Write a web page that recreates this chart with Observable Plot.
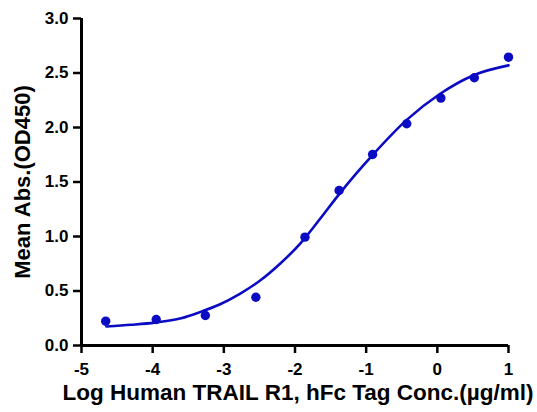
<!DOCTYPE html>
<html>
<head>
<meta charset="utf-8">
<script src="https://cdn.jsdelivr.net/npm/d3@7"></script>
<script src="https://cdn.jsdelivr.net/npm/@observablehq/plot@0.6"></script>
<style>
  body { margin: 0; background: #fff; }
  #chart svg { font-family: "Liberation Sans", Arial, sans-serif; font-weight: bold; }
</style>
</head>
<body>
<div id="chart"></div>
<script>
// Measured points: log concentration (µg/ml) vs mean absorbance
const logConc = [-4.66, -3.95, -3.26, -2.55, -1.86, -1.38, -0.91, -0.43, 0.05, 0.52, 1.0];
const meanAbs = [0.223, 0.239, 0.275, 0.443, 0.994, 1.422, 1.752, 2.034, 2.27, 2.456, 2.645];

// Fitted curve
const fitX = [-4.65, -4.3, -3.97, -3.6, -3.34, -3.06, -2.775, -2.49, -2.21, -1.93, -1.65, -1.39, -1.15, -0.92, -0.43, 0.04, 0.51, 1.0];
const fitY = [0.174, 0.19, 0.21, 0.25, 0.305, 0.376, 0.474, 0.596, 0.75, 0.933, 1.16, 1.38, 1.57, 1.74, 2.07, 2.31, 2.48, 2.57];

const xTicks = [-5, -4, -3, -2, -1, 0, 1];
const yTicks = [0, 0.5, 1, 1.5, 2, 2.5, 3];

const points = logConc.map((x, i) => ({x, y: meanAbs[i]}));
const fit = fitX.map((x, i) => ({x, y: fitY[i]}));

const blue = "#0b0bc4";

const chart = Plot.plot({
  width: 537,
  height: 412,
  marginLeft: 81,
  marginRight: 29,
  marginTop: 18,
  marginBottom: 67,
  x: {domain: [-5, 1], ticks: xTicks},
  y: {domain: [0, 3], ticks: yTicks},
  style: {fontSize: "17px", fontFamily: "Liberation Sans, Arial, sans-serif", fontWeight: "bold", color: "#000"},
  marks: [
    Plot.axisX({ticks: xTicks, tickSize: 8, strokeWidth: 2.5, tickPadding: 9, fontSize: 17, fontWeight: "bold", label: null, tickFormat: d => d < 0 ? "-" + Math.abs(d) : String(d)}),
    Plot.axisY({ticks: yTicks, tickSize: 8, strokeWidth: 2.5, tickPadding: 5, fontSize: 17, fontWeight: "bold", label: null, tickFormat: d3.format(".1f")}),
    Plot.ruleY([0], {stroke: "#000", strokeWidth: 3}),
    Plot.ruleX([-5], {stroke: "#000", strokeWidth: 3}),
    Plot.line(fit, {x: "x", y: "y", curve: "monotone-x", stroke: blue, strokeWidth: 2.6}),
    Plot.dot(points, {x: "x", y: "y", r: 4.7, fill: blue, stroke: "none"}),
    Plot.text(["Log Human TRAIL R1, hFc Tag Conc.(µg/ml)"], {frameAnchor: "bottom", dx: 3, dy: 54, fontSize: 22.5, fontWeight: "bold", fill: "#000", text: d => d}),
    Plot.text(["Mean Abs.(OD450)"], {frameAnchor: "left", textAnchor: "middle", dx: -59, rotate: -90, fontSize: 22, fontWeight: "bold", fill: "#000", text: d => d})
  ]
});

// make sure tick labels use the intended size
d3.select(chart).selectAll('g[aria-label="x-axis tick label"], g[aria-label="y-axis tick label"]').attr("font-size", 17).attr("font-weight", "bold");

document.getElementById("chart").appendChild(chart);
</script>
</body>
</html>
